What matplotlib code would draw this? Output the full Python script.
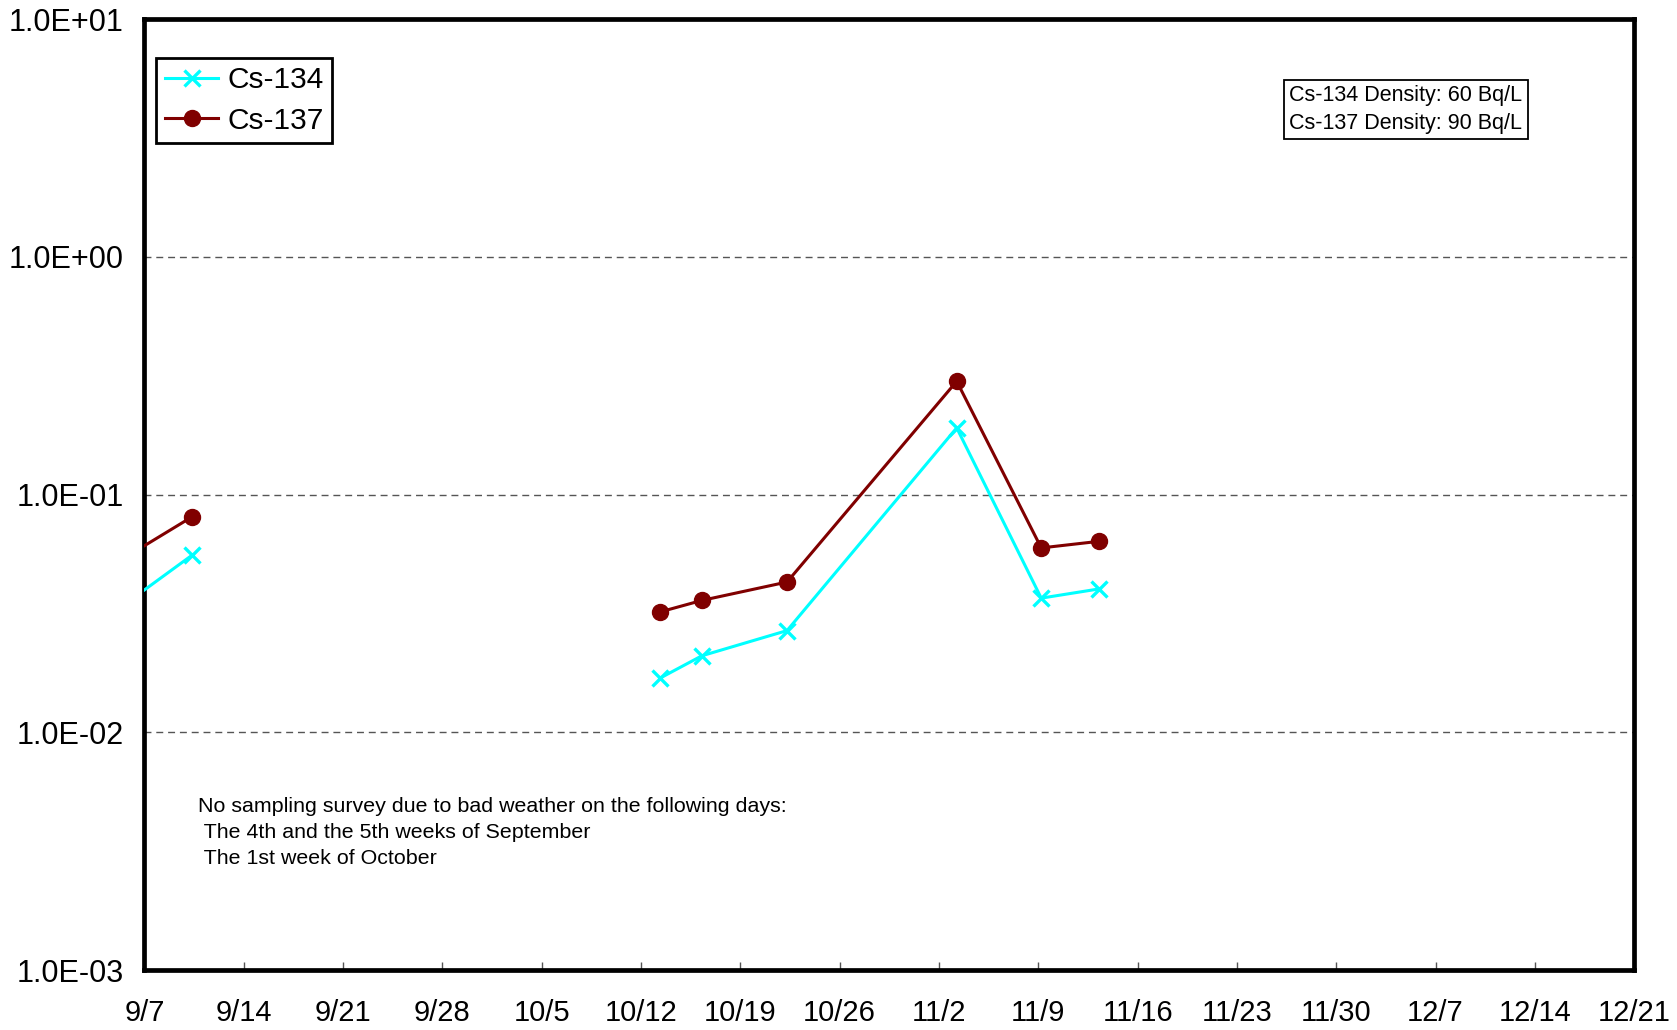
import numpy as np
import pandas as pd
import matplotlib
matplotlib.use('Agg')
import matplotlib.pyplot as plt
import matplotlib.dates as mdates

plt.rcParams.update({'font.family': ['Liberation Sans', 'DejaVu Sans']})

# sampling dates (first one lies before the plotted window)
dates = pd.to_datetime(['2012-09-03 08:00', '2012-09-10 08:00', '2012-10-13 08:00',
                        '2012-10-16 07:00', '2012-10-22 07:00', '2012-11-03 06:00',
                        '2012-11-09 05:00', '2012-11-13 06:00'])
# gaps (no sampling) split the series into separate segments
segments = [[0, 1], [2, 3, 4, 5, 6, 7]]
cs134 = [0.0275, 0.0555, 0.0169, 0.0210, 0.0268, 0.191, 0.0367, 0.0401]
cs137 = [0.0449, 0.0805, 0.0321, 0.0359, 0.0429, 0.300, 0.0597, 0.0636]

x_start, x_end = pd.Timestamp('2012-09-07'), pd.Timestamp('2012-12-21')
x_ticks = pd.date_range(x_start, x_end, freq='7D')
y_ticks = [1e-3, 1e-2, 1e-1, 1e0, 1e1]
y_labels = ['1.0E-03', '1.0E-02', '1.0E-01', '1.0E+00', '1.0E+01']

fig = plt.figure(figsize=(16.77, 10.30), dpi=100)
ax = fig.add_axes([0.0861, 0.0582, 0.9745 - 0.0861, 0.9813 - 0.0582])

c134, c137 = '#00FFFF', '#800000'
for k, seg in enumerate(segments):
    ax.plot(dates[seg], [cs134[i] for i in seg], color=c134, lw=2.2, marker='x',
            ms=12, mew=2.4, label='Cs-134' if k == 0 else None, zorder=3)
    ax.plot(dates[seg], [cs137[i] for i in seg], color=c137, lw=2.2, marker='o',
            ms=11.5, label='Cs-137' if k == 0 else None, zorder=4)

ax.set_yscale('log')
ax.set_ylim(1e-3, 1e1)
ax.set_xlim(x_start, x_end)
ax.set_yticks(y_ticks)
ax.set_yticklabels(y_labels, fontsize=22)
ax.yaxis.set_minor_locator(matplotlib.ticker.NullLocator())
ax.tick_params(axis='y', length=0, pad=15)
ax.set_xticks(x_ticks)
ax.set_xticklabels([f'{d.month}/{d.day}' for d in x_ticks], fontsize=21)
ax.tick_params(axis='x', direction='in', length=6, width=1, color='#555555', pad=21)

for yv in y_ticks[1:-1]:
    ax.axhline(yv, color='#555555', lw=1, ls=(0, (5, 3.5)), zorder=1)

for sp in ax.spines.values():
    sp.set_linewidth(3.4)
    sp.set_color('black')

leg = ax.legend(loc='upper left', bbox_to_anchor=(0.008, 0.9595), fontsize=21.5,
                frameon=True, fancybox=False, edgecolor='black', framealpha=1,
                handlelength=1.8, handletextpad=0.3, borderpad=0.28, labelspacing=0.42,
                borderaxespad=0)
leg.get_frame().set_linewidth(2)

ax.text(0.7685, 0.9305, 'Cs-134 Density: 60 Bq/L\nCs-137 Density: 90 Bq/L',
        transform=ax.transAxes, fontsize=15.5, va='top', ha='left', linespacing=1.4,
        bbox=dict(boxstyle='square,pad=0.25', fc='white', ec='black', lw=1.3))

ax.text(0.036, 0.1825, 'No sampling survey due to bad weather on the following days:\n'
        ' The 4th and the 5th weeks of September\n The 1st week of October',
        transform=ax.transAxes, fontsize=15.4, va='top', ha='left', linespacing=1.48)

fig.savefig('out.png', dpi=100)
